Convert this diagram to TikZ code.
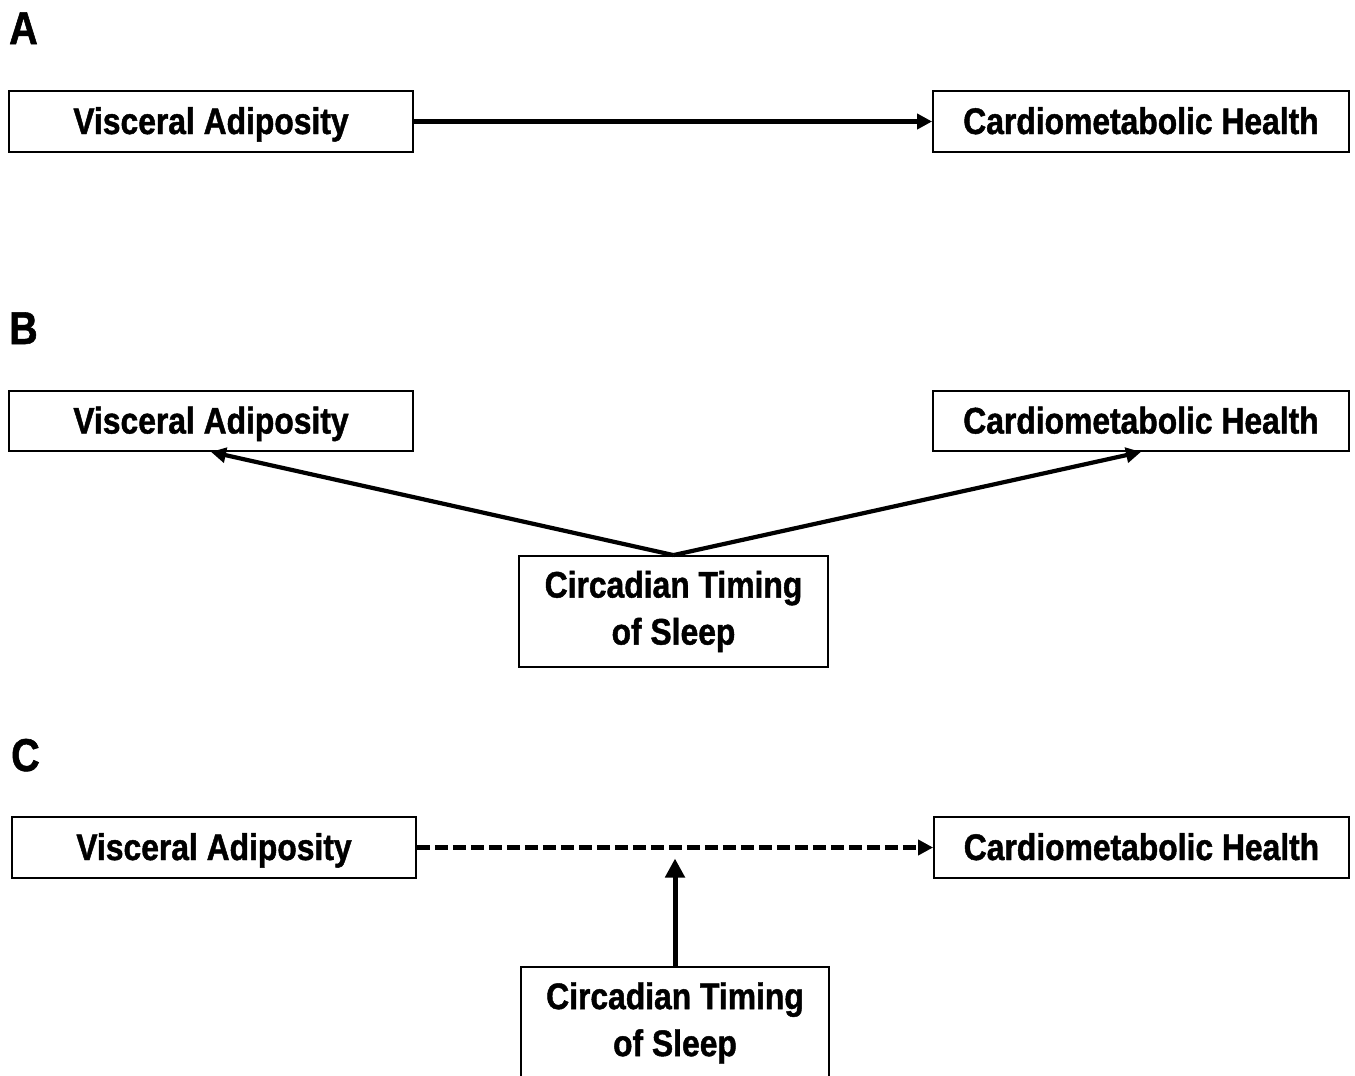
\documentclass[tikz,border=0pt]{standalone}
\usepackage{fontspec}
\setmainfont{Liberation Sans}[FakeStretch=0.86,BoldFeatures={FakeStretch=0.86,FakeBold=1.2}]
\usetikzlibrary{arrows.meta,calc}
\begin{document}
\begin{tikzpicture}[x=1pt,y=-1pt,
  box/.style={draw=black,line width=1.8pt,fill=white,inner sep=0pt,align=center,
    font=\fontsize{37}{47}\selectfont\bfseries},
  onebox/.style={box,text height=27pt,text depth=2pt},
  lab/.style={font=\fontsize{46}{50}\selectfont\bfseries,anchor=base west,inner sep=0pt},
  arr/.style={line width=4.2pt,-{Triangle[length=15pt,width=15pt]}},
  bigarr/.style={line width=5pt,-{Triangle[length=19pt,width=19pt]}},
  darr/.style={arr,dash pattern=on 13pt off 5pt}]
\useasboundingbox (0,0) rectangle (1355,1076);
\clip (0,0) rectangle (1355,1076);
\fill[white] (0,0) rectangle (1355,1076);
% Panel A
\node[lab] (labA) at (9,44) {A};
\node[onebox,minimum width=404pt,minimum height=61pt] (visA) at (211,121.5) {Visceral Adiposity};
\node[onebox,minimum width=416pt,minimum height=61pt] (carA) at (1141,121.5) {Cardiometabolic Health};
\draw[arr] (visA.east) -- (carA.west);
% Panel B
\node[lab] (labB) at (9,344) {B};
\node[onebox,minimum width=404pt,minimum height=60pt] (visB) at (211,421) {Visceral Adiposity};
\node[onebox,minimum width=416pt,minimum height=60pt] (carB) at (1141,421) {Cardiometabolic Health};
\node[box,minimum width=309pt,minimum height=111pt] (cirB) at (673.5,611.5) {Circadian Timing\\of Sleep};
\draw[arr] (cirB.north) -- (visB.south);
\draw[arr] (cirB.north) -- (carB.south);
% Panel C
\node[lab] (labC) at (11,771) {C};
\node[onebox,minimum width=404pt,minimum height=61pt] (visC) at (214,847.5) {Visceral Adiposity};
\node[onebox,minimum width=415pt,minimum height=61pt] (carC) at (1141.5,847.5) {Cardiometabolic Health};
\draw[darr] (visC.east) -- (carC.west);
\node[box,minimum width=308pt,minimum height=112pt] (cirC) at (675,1023) {Circadian Timing\\of Sleep};
\coordinate (mid) at ($(cirC.north |- visC.east)+(0,11)$);
\draw[bigarr] (cirC.north) -- (mid);
\end{tikzpicture}
\end{document}
